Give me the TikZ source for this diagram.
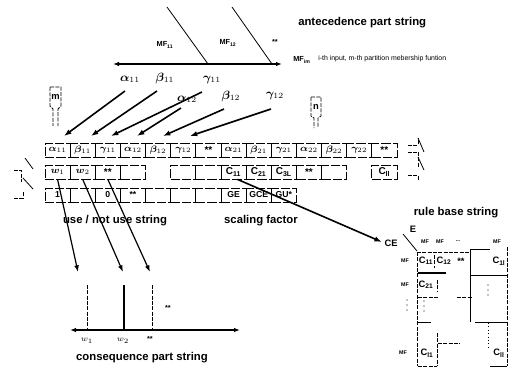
\documentclass[tikz,border=0pt]{standalone}
\usepackage{fontspec}
\setmainfont{Liberation Sans}
\usepackage{amsmath}
\usepackage{bm}
\usetikzlibrary{arrows.meta}
\tikzset{
  titletext/.style={font=\fontsize{8.5}{10}\selectfont\bfseries, inner sep=0pt},
  desctext/.style={font=\fontsize{5.2}{6}\selectfont, inner sep=0pt},
  mflab/.style={font=\fontsize{5.5}{6}\selectfont\bfseries, inner sep=0pt},
  smallmf/.style={font=\fontsize{4}{5}\selectfont\bfseries, inner sep=0pt},
  glab/.style={font=\fontsize{9}{10}\selectfont, inner sep=0pt},
  celltext/.style={font=\fontsize{7}{8}\selectfont\bfseries, inner sep=0pt},
  cellbox/.style={draw, line width=0.6pt, dash pattern=on 7pt off 1.5pt, minimum width=18.85pt, minimum height=10.5pt, inner sep=0pt, font=\fontsize{7.5}{8}\selectfont\bfseries},
  brk/.style={line width=0.55pt, dash pattern=on 3pt off 1pt},
  solidthin/.style={line width=0.6pt},
  bigarrow/.style={line width=1.2pt, -{Latex[length=5.5pt,width=4pt]}},
  midarrow/.style={line width=0.9pt, -{Latex[length=5pt,width=3.6pt]}},
  axis/.style={line width=0.9pt, {Latex[length=4.5pt,width=3.4pt]}-{Latex[length=4.5pt,width=3.4pt]}},
  dotmark/.style={fill=black},
}
\begin{document}
\begin{tikzpicture}[x=0.75pt,y=-0.75pt]
\useasboundingbox (0,0) rectangle (512,369);

% ---------- antecedence part ----------
\node[titletext, anchor=west] (anttitle) at (298,23) {antecedence part string};
\coordinate (axL) at (113,64);
\coordinate (axR) at (282,64);
\draw[axis] (axL) -- (axR);
\coordinate (mf1top) at (167,7);
\coordinate (mf1bot) at (208,64);
\coordinate (mf2top) at (232,7);
\coordinate (mf2bot) at (272,64);
\draw[solidthin] (mf1top) -- (mf1bot);
\draw[solidthin] (mf2top) -- (mf2bot);
\node[mflab] (mf11) at (165,45) {MF\textsubscript{11}};
\node[mflab] (mf12) at (228,43) {MF\textsubscript{12}};
\node[mflab] (mfdots) at (275,42) {**};
\node[mflab, anchor=west] (mfim) at (293,60) {MF\textsubscript{im}};
\node[desctext, anchor=west] (mfdesc) at (318,59) {i-th input, m-th partition mebership funtion};

% parameter labels
\node[glab] (la11) at (130,79) {$\bm{\alpha}_{11}$};
\node[glab] (lb11) at (165,78) {$\bm{\beta}_{11}$};
\node[glab] (lg11) at (212,80) {$\bm{\gamma}_{11}$};
\node[glab] (la12) at (187,99) {$\bm{\alpha}_{12}$};
\node[glab] (lb12) at (231,96) {$\bm{\beta}_{12}$};
\node[glab] (lg12) at (275,96) {$\bm{\gamma}_{12}$};

% ---------- strings (rows) ----------
\foreach \k/\lab in {1/{$\bm{\alpha}_{11}$},2/{$\bm{\beta}_{11}$},3/{$\bm{\gamma}_{11}$},4/{$\bm{\alpha}_{12}$},5/{$\bm{\beta}_{12}$},6/{$\bm{\gamma}_{12}$},7/{**},8/{$\bm{\alpha}_{21}$},9/{$\bm{\beta}_{21}$},10/{$\bm{\gamma}_{21}$},11/{$\bm{\alpha}_{22}$},12/{$\bm{\beta}_{22}$},13/{$\bm{\gamma}_{22}$},14/{**}}
  \node[cellbox] (r1c\k) at ({45+25.14*(\k-0.5)},150) {\lab};

\foreach \k/\lab in {1/{$\bm{w}_1$},2/{$\bm{w}_2$},3/{**},4/{},6/{},7/{},8/{C\textsubscript{11}},9/{C\textsubscript{21}},10/{C\textsubscript{3L}},11/{**},12/{},14/{C\textsubscript{ll}}}
  \node[cellbox] (r2c\k) at ({45+25.14*(\k-0.5)},172) {\lab};

\foreach \k/\lab in {1/1,2/{},3/0,4/{**},5/{},6/{},7/{},8/GE,9/GCE,10/{GU*}}
  \node[cellbox, font=\fontsize{6.5}{7}\selectfont\bfseries] (r3c\k) at ({45+25.14*(\k-0.5)},195) {\lab};

\node[titletext] (usestr) at (115,221) {use / not use string};
\node[titletext] (scalestr) at (261,221) {scaling factor};

% m and n markers
\draw[brk] (50,87) -- (61,87) -- (61,106) -- (58,109) -- (58,126);
\draw[brk] (50,87) -- (50,106) -- (53,109) -- (53,126);
\node[celltext] (mmark) at (55.5,97) {m};
\draw[brk] (311,97) -- (321,97) -- (321,116) -- (318,118) -- (318,128);
\draw[brk] (311,97) -- (311,116) -- (314,118) -- (314,128);
\node[celltext] (nmark) at (316,107) {n};

% right brace
\draw[brk] (408,145) -- (418,145) -- (418,138);
\draw[solidthin] (418,138) -- (424,152);
\draw[brk] (408,152) -- (417,152);
\draw[brk] (418,152) -- (418,168);
\draw[solidthin] (418,157) -- (424,170);
\draw[brk] (408,175) -- (418,175) -- (418,181);

% left brace
\draw[solidthin] (25,158) -- (33,169);
\draw[brk] (14,170) -- (21,170) -- (21,182);
\draw[solidthin] (23,178) -- (33,189);
\draw[brk] (14,198) -- (23,198) -- (23,192);

% arrows to antecedent string
\coordinate (a1s) at (125,91);  \coordinate (a1t) at (64,136);
\coordinate (a2s) at (157,91);  \coordinate (a2t) at (91,136);
\coordinate (a3s) at (202,92);  \coordinate (a3t) at (111,136);
\coordinate (a4s) at (181,108); \coordinate (a4t) at (137,136);
\coordinate (a5s) at (224,109); \coordinate (a5t) at (163,136);
\coordinate (a6s) at (271,109); \coordinate (a6t) at (190,136);
\foreach \i in {1,...,6} \draw[bigarrow] (a\i s) -- (a\i t);

% ---------- consequence part ----------
\coordinate (c1t) at (78,272);
\coordinate (c2t) at (123,272);
\coordinate (c3t) at (150,272);
\draw[midarrow] (r2c1.south) -- (c1t);
\draw[midarrow] (r2c2.south) -- (c2t);
\draw[midarrow] (r2c3.south) -- (c3t);

\coordinate (cxL) at (70,330);
\coordinate (cxR) at (240,330);
\draw[axis] (cxL) -- (cxR);
\coordinate (v1t) at (87,285);  \coordinate (v1b) at (87,330);
\coordinate (v2t) at (124,285); \coordinate (v2b) at (124,330);
\coordinate (v3t) at (152,285); \coordinate (v3b) at (152,330);
\draw[brk] (v1t) -- (v1b);
\draw[line width=1pt] (v2t) -- (v2b);
\draw[brk] (v3t) -- (v3b);
\node[mflab] (cdots) at (168,308) {**};
\node[glab, font=\fontsize{6.5}{7}\selectfont] (cw1) at (87,341) {$w_1$};
\node[glab, font=\fontsize{6.5}{7}\selectfont] (cw2) at (123,341) {$w_2$};
\node[mflab] (cwd) at (150,339) {**};
\node[titletext] (consstr) at (142,358) {consequence part string};

% ---------- rule base ----------
\node[titletext] (rbs) at (456,213) {rule base string};
\node[celltext] (Elab) at (413,229) {E};
\node[celltext] (CE) at (391,243) {CE};
\draw[bigarrow, shorten >=2pt] ([xshift=3pt]r2c8.south) -- (CE.west);
\draw[solidthin] (403,234) -- (417,251);
\node[smallmf] (h1) at (425,242) {MF};
\node[smallmf] (h2) at (440,242) {MF};
\node[smallmf] (h3) at (458,241) {...};
\node[smallmf] (h4) at (497,242) {MF};
\node[smallmf] (v1) at (405,261) {MF};
\node[smallmf] (v2) at (405,285) {MF};
\node[smallmf] (v4) at (403,353) {MF};
\foreach \yy in {300,305,310} \fill[dotmark] (407,\yy) circle (0.55pt);
\foreach \yy in {301,306,311} \fill[dotmark] (424,\yy) circle (0.55pt);
\foreach \yy in {285,290,295} \fill[dotmark] (488,\yy) circle (0.55pt);
\node[celltext] (m11) at (426,261) {C\textsubscript{11}};
\node[celltext] (m12) at (444,261) {C\textsubscript{12}};
\node[celltext] (m13) at (461,261) {**};
\node[celltext] (m1l) at (499,261) {C\textsubscript{1l}};
\node[celltext] (m21) at (426,285) {C\textsubscript{21}};
\node[celltext] (ml1) at (427,353) {C\textsubscript{l1}};
\node[celltext] (mll) at (499,353) {C\textsubscript{ll}};
\draw[brk] (417,252) -- (417,366);
\draw[brk] (417,252) -- (470,252);
\draw[solidthin] (470,249) -- (490,249);
\draw[solidthin] (470,249) -- (470,322);
\draw[brk] (507,247) -- (507,366);
\draw[line width=0.8pt] (418,273) -- (446,273);
\draw[brk] (434,255) -- (434,268);
\draw[brk] (437,280) -- (437,291);
\draw[solidthin] (470,275) -- (507,275);
\draw[brk] (418,297) -- (438,297);
\draw[brk] (457,297) -- (473,297);
\draw[solidthin] (418,322) -- (431,322);
\draw[solidthin] (475,322) -- (507,322);
\draw[brk] (437,333) -- (437,366);
\draw[brk] (438,343) -- (460,343);
\draw[line width=0.55pt, dotted] (488,323) -- (488,350);
\draw[solidthin] (490,366) -- (507,366);
\draw[brk] (418,366) -- (437,366);
\end{tikzpicture}
\end{document}
